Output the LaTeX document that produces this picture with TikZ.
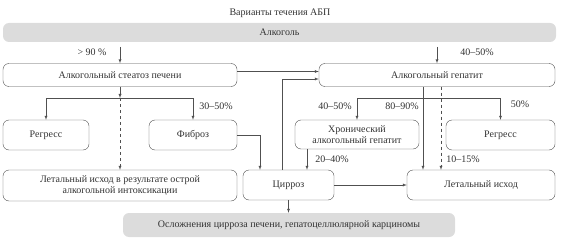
\documentclass[tikz,border=0pt]{standalone}
\usepackage{fontspec}
\setmainfont{Liberation Serif}
\usepackage{xcolor}
\usepackage{tikz}
\usetikzlibrary{shapes,arrows,positioning,calc}
\definecolor{barcolor}{RGB}{220,220,220}
\definecolor{linecolor}{RGB}{80,80,80}
\definecolor{textcolor}{RGB}{50,50,50}

\begin{document}
\begin{tikzpicture}[x=1pt,y=-1pt,font=\fontsize{10}{11.5}\selectfont,text=textcolor,box/.style={draw=linecolor,rounded corners=6pt,align=center,inner sep=0pt},bar/.style={fill=barcolor,rounded corners=6pt,inner sep=0pt},arr/.style={->,>=latex,draw=linecolor},lbl/.style={inner sep=0pt}]
\useasboundingbox (0,0) rectangle (561,243);
\node[lbl](title) at (280,13){Варианты течения АБП}; \node[bar,minimum width=553pt,minimum height=19pt](alc) at (279.5,32.5){Алкоголь};
\node[box,minimum width=234pt,minimum height=23pt](steat) at (120,75){Алкогольный стеатоз печени}; \node[box,minimum width=236pt,minimum height=23pt](hep) at (437,75){Алкогольный гепатит};
\node[box,minimum width=86pt,minimum height=30pt](reg1) at (46,135){Регресс}; \node[box,minimum width=88pt,minimum height=30pt](fib) at (193,135){Фиброз};
\node[box,minimum width=124pt,minimum height=29pt](chron) at (357,134.5){Хронический\\алкогольный гепатит}; \node[box,minimum width=109pt,minimum height=30pt](reg2) at (500.5,135){Регресс};
\node[box,minimum width=234pt,minimum height=31pt](death1) at (120,185.5){Летальный исход в результате острой\\алкогольной интоксикации}; \node[box,minimum width=91pt,minimum height=30pt](cirr) at (288.5,185){Цирроз};
\node[box,minimum width=148pt,minimum height=30pt](death2) at (481,185){Летальный исход}; \node[bar,minimum width=332pt,minimum height=24pt](compl) at (289,225){Осложнения цирроза печени, гепатоцеллюлярной карциномы};
% labels
\node[lbl](p90) at (92,52){> 90 \%}; \node[lbl](p4050a) at (477,52){40--50\%}; \node[lbl](p3050) at (216,106){30--50\%};
\node[lbl](p4050b) at (335,106){40--50\%}; \node[lbl](p8090) at (402,106){80--90\%}; \node[lbl](p50) at (520,104){50\%};
\node[lbl](p2040) at (332,159){20--40\%}; \node[lbl](p1015) at (463,159){10--15\%};
% connectors
\coordinate (a1) at (120,47); \coordinate (a2) at (437,47); \coordinate (s1) at (120,98); \coordinate (h1) at (423,98);
\draw[arr](a1)--(steat.north); \draw[arr](a2)--(hep.north);
\draw[arr]([yshift=3.5pt]steat.east)--([yshift=3.5pt]hep.west); \draw[arr]([xshift=-6.5pt]cirr.north)|-([yshift=-4pt]hep.west);
\draw[arr](steat.south)--(s1); \draw[arr](s1)-|(reg1.north); \draw[arr](s1)-|(fib.north); \draw[arr,dashed](s1)--(death1.north);
\draw[arr]([xshift=-14pt]hep.south)--([xshift=-14pt]hep.south|-death2.north); \draw[arr,dashed]([xshift=4pt]hep.south)--([xshift=4pt]hep.south|-death2.north);
\draw[arr](h1)-|(chron.north); \draw[arr](h1)-|(reg2.north);
\draw[arr](fib.east)-|([xshift=-28.5pt]cirr.north); \draw[arr]([xshift=-50pt]chron.south)--([xshift=-50pt]chron.south|-cirr.north);
\draw[arr](cirr.east)--(death2.west); \draw[arr](cirr.south)--(cirr.south|-compl.north);
\end{tikzpicture}
\end{document}
